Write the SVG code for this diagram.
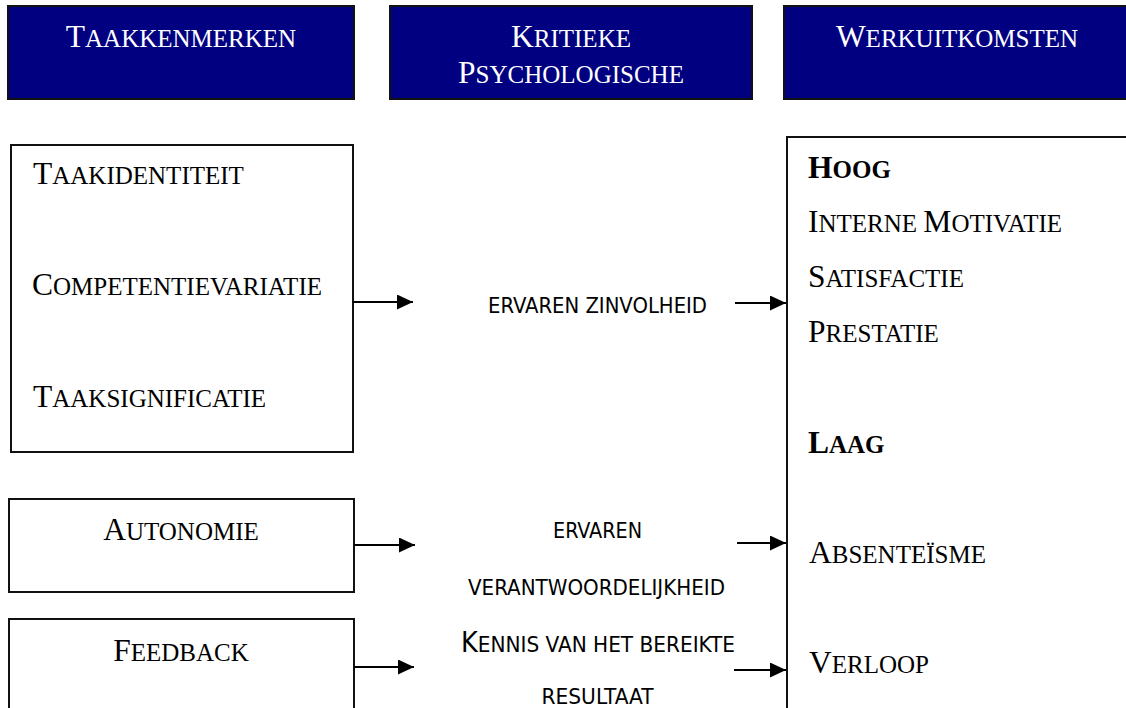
<svg xmlns="http://www.w3.org/2000/svg" width="1126" height="708" viewBox="0 0 1126 708">
<style>
.hdr{fill:#000080;stroke:#111;stroke-width:2}
.box{fill:#fff;stroke:#111;stroke-width:2}
.sc{font-family:"Liberation Serif","Times New Roman",serif;font-size:25px;fill:#000}
.sc .c{font-size:31.5px}
.w{fill:#fff}
.b{font-weight:bold}
.mid{font-family:"Liberation Sans Narrow","DejaVu Sans Condensed","Liberation Sans",sans-serif;font-size:22px;fill:#000}
.mid .c{font-size:28px}
.con{stroke:#000;stroke-width:2;fill:none;marker-end:url(#arr)}
</style>
<defs>
<marker id="arr" markerUnits="userSpaceOnUse" markerWidth="16" markerHeight="16" refX="16" refY="7.5" orient="auto">
<path d="M0,0 L16,7.5 L0,15 z" fill="#000"/>
</marker>
</defs>
<rect width="1126" height="708" fill="#fff"/>

<g id="hdr-taakkenmerken">
<rect class="hdr" x="8" y="6" width="346" height="93"/>
<text class="sc w" x="181" y="47" text-anchor="middle"><tspan class="c">T</tspan>AAKKENMERKEN</text>
</g>
<g id="hdr-kritieke">
<rect class="hdr" x="390" y="6" width="362" height="93"/>
<text class="sc w" x="571" y="47" text-anchor="middle"><tspan class="c">K</tspan>RITIEKE</text>
<text class="sc w" x="571" y="83" text-anchor="middle"><tspan class="c">P</tspan>SYCHOLOGISCHE</text>
</g>
<g id="hdr-werkuitkomsten">
<rect class="hdr" x="784" y="6" width="346" height="93"/>
<text class="sc w" x="957" y="47" text-anchor="middle"><tspan class="c">W</tspan>ERKUITKOMSTEN</text>
</g>

<g id="node-kern">
<rect class="box" x="11" y="145" width="342" height="307"/>
<text class="sc" x="33" y="184"><tspan class="c">T</tspan>AAKIDENTITEIT</text>
<text class="sc" x="32" y="295"><tspan class="c">C</tspan>OMPETENTIEVARIATIE</text>
<text class="sc" x="33" y="407"><tspan class="c">T</tspan>AAKSIGNIFICATIE</text>
</g>
<g id="node-autonomie">
<rect class="box" x="9" y="499" width="345" height="93"/>
<text class="sc" x="181" y="540" text-anchor="middle"><tspan class="c">A</tspan>UTONOMIE</text>
</g>
<g id="node-feedback">
<rect class="box" x="9" y="619" width="345" height="120"/>
<text class="sc" x="181" y="661" text-anchor="middle"><tspan class="c">F</tspan>EEDBACK</text>
</g>

<g id="node-zinvolheid">
<text class="mid" x="597.5" y="313" text-anchor="middle" textLength="219" lengthAdjust="spacingAndGlyphs">ERVAREN ZINVOLHEID</text>
</g>
<g id="node-verantwoordelijkheid">
<text class="mid" x="597.5" y="538" text-anchor="middle" textLength="89" lengthAdjust="spacingAndGlyphs">ERVAREN</text>
<text class="mid" x="596.5" y="595" text-anchor="middle" textLength="257" lengthAdjust="spacingAndGlyphs">VERANTWOORDELIJKHEID</text>
</g>
<g id="node-kennis">
<text class="mid" x="598" y="652" text-anchor="middle" textLength="274" lengthAdjust="spacingAndGlyphs"><tspan class="c">K</tspan>ENNIS VAN HET BEREIKTE</text>
<text class="mid" x="597.5" y="704" text-anchor="middle" textLength="112" lengthAdjust="spacingAndGlyphs">RESULTAAT</text>
</g>

<g id="node-werkuitkomsten">
<rect class="box" x="787" y="137" width="400" height="620"/>
<text class="sc b" x="808" y="178"><tspan class="c">H</tspan>OOG</text>
<text class="sc" x="808" y="232"><tspan class="c">I</tspan>NTERNE <tspan class="c">M</tspan>OTIVATIE</text>
<text class="sc" x="808" y="287"><tspan class="c">S</tspan>ATISFACTIE</text>
<text class="sc" x="808" y="342"><tspan class="c">P</tspan>RESTATIE</text>
<text class="sc b" x="808" y="453"><tspan class="c">L</tspan>AAG</text>
<text class="sc" x="809" y="563"><tspan class="c">A</tspan>BSENTEÏSME</text>
<text class="sc" x="809" y="673"><tspan class="c">V</tspan>ERLOOP</text>
</g>

<g id="connectors">
<line class="con" x1="353" y1="302" x2="413" y2="302"/>
<line class="con" x1="735" y1="303" x2="786" y2="303"/>
<line class="con" x1="354" y1="545" x2="415" y2="545"/>
<line class="con" x1="737" y1="543" x2="786" y2="543"/>
<line class="con" x1="354" y1="667" x2="414" y2="667"/>
<line class="con" x1="734" y1="670" x2="786" y2="670"/>
</g>
</svg>
